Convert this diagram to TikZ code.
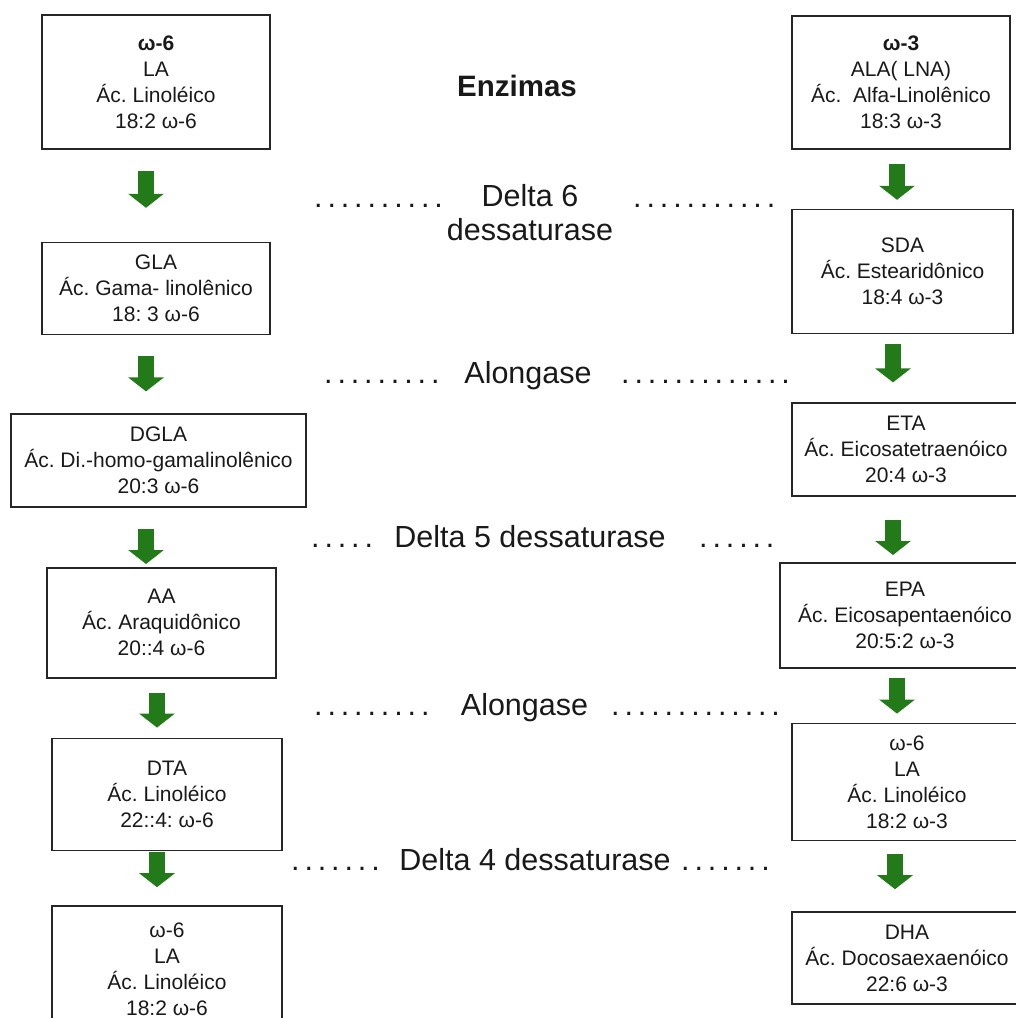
\documentclass[tikz,border=0pt]{standalone}
\usepackage{fontspec}
\setmainfont{Liberation Sans}
\newfontfamily\leaderfont[LetterSpace=16]{Liberation Sans}
\usetikzlibrary{positioning,arrows.meta}
\definecolor{flowgreen}{RGB}{34,122,24}
\frenchspacing

\tikzset{
	acid/.style={draw=black!85, line width=1.6pt, inner sep=0pt, align=center, text=black!90, font=\fontsize{21}{26}\selectfont},
	enzyme/.style={inner sep=0pt, text=black!90, font=\fontsize{30.5}{34}\selectfont},
	leader/.style={inner sep=0pt, anchor=base west, text=black!90, font=\leaderfont\fontsize{30.5}{34}\selectfont},
	flow/.style={flowgreen, line width=16pt, -{Triangle[width=35pt,length=14pt]}},
}

\begin{document}
\begin{tikzpicture}[x=1pt, y=-1pt]
	\useasboundingbox (0,0) rectangle (1016,1018);
	\clip (0,0) rectangle (1016,1018);

	% omega-6 column
	\node[acid, minimum width=228pt, minimum height=134pt] (la) at (156,82) {\textbf{ω-6}\\LA\\Ác. Linoléico\\18:2 ω-6};
	\node[acid, minimum width=228pt, minimum height=92pt, below=92pt of la] (gla) {GLA\\Ác. Gama- linolênico\\18: 3 ω-6};
	\node[acid, minimum width=295pt, minimum height=93pt, below=78pt of gla, xshift=2.5pt] (dgla) {DGLA\\Ác. Di.-homo-gamalinolênico\\20:3 ω-6};
	\node[acid, minimum width=229pt, minimum height=110pt, below=59pt of dgla, xshift=3pt] (aa) {AA\\Ác. Araquidônico\\20::4 ω-6};
	\node[acid, minimum width=230pt, minimum height=112pt, below=59pt of aa, xshift=5.5pt] (dta) {DTA\\Ác. Linoléico\\22::4: ω-6};
	\node[acid, minimum width=230pt, minimum height=126pt, below=54pt of dta] (lab) {ω-6\\LA\\Ác. Linoléico\\18:2 ω-6};

	% omega-3 column
	\node[acid, minimum width=218pt, minimum height=133pt] (ala) at (901,82.5) {\textbf{ω-3}\\ALA( LNA)\\Ác.~ Alfa-Linolênico\\18:3 ω-3};
	\node[acid, minimum width=221pt, minimum height=124pt, below=59pt of ala, xshift=1.5pt] (sda) {SDA\\Ác. Estearidônico\\18:4 ω-3};
	\node[acid, minimum width=228pt, minimum height=93pt, below=68pt of sda, xshift=3.5pt] (eta) {ETA\\Ác. Eicosatetraenóico\\20:4 ω-3};
	\node[acid, minimum width=250pt, minimum height=105pt, below=65pt of eta, xshift=-1pt] (epa) {EPA\\Ác. Eicosapentaenóico\\20:5:2 ω-3};
	\node[acid, minimum width=230pt, minimum height=117pt, below=54pt of epa, xshift=2pt] (lac) {ω-6\\LA\\Ác. Linoléico\\18:2 ω-3};
	\node[acid, minimum width=230pt, minimum height=92pt, below=70pt of lac] (dha) {DHA\\Ác. Docosaexaenóico\\22:6 ω-3};

	% enzimas
	\node[enzyme, anchor=base, font=\bfseries\fontsize{29.5}{34}\selectfont] (enz) at (517,96) {Enzimas};
	\node[enzyme, align=center] (d6) at (530,213) {Delta 6\\dessaturase};
	\node[enzyme, anchor=base] (alo1) at (528,383) {Alongase};
	\node[enzyme, anchor=base] (d5) at (530,547) {Delta 5 dessaturase};
	\node[enzyme, anchor=base] (alo2) at (524.5,715) {Alongase};
	\node[enzyme, anchor=base] (d4) at (535,870) {Delta 4 dessaturase};

	\node[leader] (dl1) at (314,207) {..........};
	\node[leader] (dr1) at (633,207) {...........};
	\node[leader] (dl2) at (324,383) {.........};
	\node[leader] (dr2) at (621,383) {.............};
	\node[leader] (dl3) at (311,547) {.....};
	\node[leader] (dr3) at (699,547) {......};
	\node[leader] (dl4) at (314,715) {.........};
	\node[leader] (dr4) at (611,715) {.............};
	\node[leader] (dl5) at (291,870) {.......};
	\node[leader] (dr5) at (681,870) {.......};

	% arrows
	\draw[flow, shorten <=21pt, shorten >=34pt] ([xshift=-10pt]la.south) -- ([xshift=-10pt]la.south |- gla.north);
	\draw[flow, shorten <=21pt, shorten >=22pt] ([xshift=-10pt]gla.south) -- ([xshift=-10pt]gla.south |- dgla.north);
	\draw[flow, shorten <=21pt, shorten >=3pt] ([xshift=-12.5pt]dgla.south) -- ([xshift=-12.5pt]dgla.south |- aa.north);
	\draw[flow, shorten <=14pt, shorten >=10pt] ([xshift=-4.5pt]aa.south) -- ([xshift=-4.5pt]aa.south |- dta.north);
	\draw[flow, shorten <=1pt, shorten >=18pt] ([xshift=-10pt]dta.south) -- ([xshift=-10pt]dta.south |- lab.north);

	\draw[flow, shorten <=14pt, shorten >=9pt] ([xshift=-4pt]ala.south) -- ([xshift=-4pt]ala.south |- sda.north);
	\draw[flow, shorten <=10pt, shorten >=20pt] ([xshift=-9.5pt]sda.south) -- ([xshift=-9.5pt]sda.south |- eta.north);
	\draw[flow, shorten <=23pt, shorten >=7pt] ([xshift=-13pt]eta.south) -- ([xshift=-13pt]eta.south |- epa.north);
	\draw[flow, shorten <=9pt, shorten >=9pt] ([xshift=-8pt]epa.south) -- ([xshift=-8pt]epa.south |- lac.north);
	\draw[flow, shorten <=13pt, shorten >=22pt] ([xshift=-12pt]lac.south) -- ([xshift=-12pt]lac.south |- dha.north);
\end{tikzpicture}
\end{document}
